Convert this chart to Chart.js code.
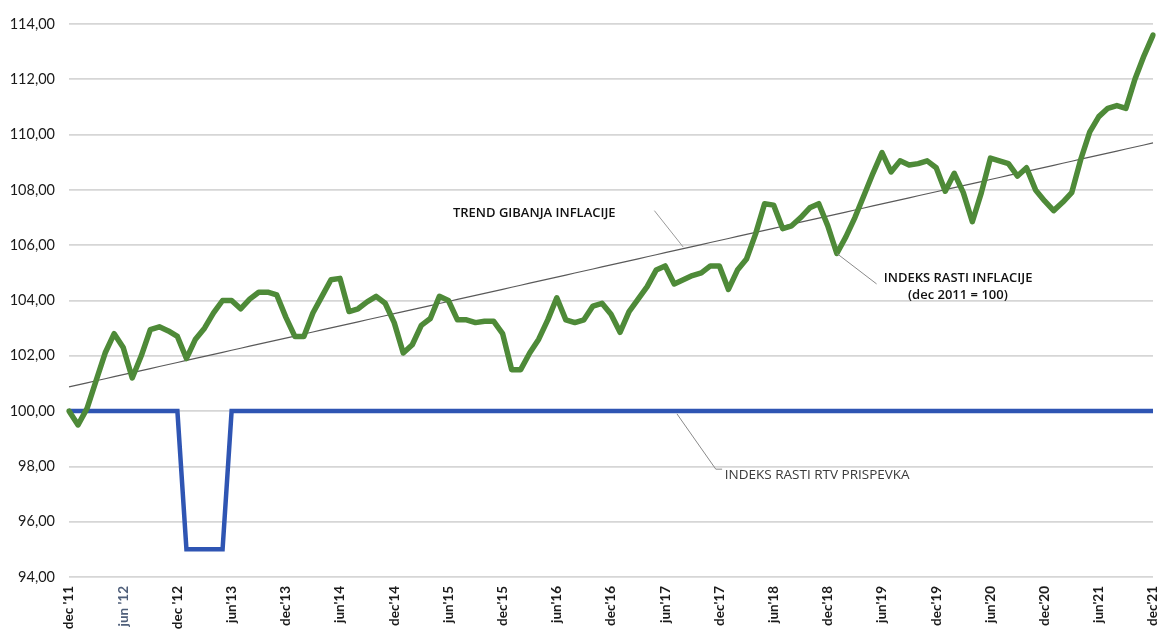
<!DOCTYPE html>
<html>
<head>
<meta charset="utf-8">
<script src="https://cdn.jsdelivr.net/npm/chart.js@4"></script>
<style>
  html, body { margin: 0; padding: 0; background: #fff; }
  #wrap { width: 1157px; height: 629px; position: relative; }
</style>
</head>
<body>
<div id="wrap"><canvas id="chart"></canvas></div>
<script>
// =============== Data ===============
// monthly, dec 2011 .. dec 2021 (121 points)
const tickLabels = ["dec '11", "jun '12", "dec '12", "jun'13", "dec'13", "jun'14", "dec'14",
  "jun'15", "dec'15", "jun'16", "dec'16", "jun'17", "dec'17", "jun'18", "dec'18",
  "jun'19", "dec'19", "jun'20", "dec'20", "jun'21", "dec'21"];

const inflacija = [
  100.0, 99.5, 100.1, 101.1, 102.1, 102.8, 102.3, 101.2, 102.0, 102.95, 103.05, 102.9,
  102.7, 101.9, 102.6, 103.0, 103.55, 104.0, 104.0, 103.7, 104.05, 104.3, 104.3, 104.2,
  103.4, 102.7, 102.7, 103.55, 104.15, 104.75, 104.8, 103.6, 103.7, 103.95, 104.15, 103.9,
  103.2, 102.1, 102.4, 103.1, 103.35, 104.15, 104.0, 103.3, 103.3, 103.2, 103.25, 103.25,
  102.8, 101.5, 101.5, 102.1, 102.6, 103.3, 104.1, 103.3, 103.2, 103.3, 103.8, 103.9,
  103.5, 102.85, 103.6, 104.05, 104.5, 105.1, 105.25, 104.6, 104.75, 104.9, 105.0, 105.25,
  105.25, 104.4, 105.1, 105.5, 106.4, 107.5, 107.45, 106.6, 106.7, 107.0, 107.35, 107.5,
  106.7, 105.7, 106.3, 107.0, 107.8, 108.6, 109.35, 108.65, 109.05, 108.9, 108.95, 109.05,
  108.8, 107.95, 108.6, 107.9, 106.85, 107.9, 109.15, 109.05, 108.95, 108.5, 108.8, 108.0,
  107.6, 107.25, 107.55, 107.9, 109.1, 110.1, 110.65, 110.95, 111.05, 110.95, 112.0, 112.85,
  113.6
];

// RTV prispevek: 100, cut to 95 from jan'13 to may'13
const rtvPrispevek = inflacija.map((_, i) => (i >= 13 && i <= 17 ? 95 : 100));

// =============== Helpers ===============
function linearTrend(values) {
  const n = values.length;
  let sx = 0, sy = 0, sxy = 0, sxx = 0;
  values.forEach((v, i) => { sx += i; sy += v; sxy += i * v; sxx += i * i; });
  const b = (n * sxy - sx * sy) / (n * sxx - sx * sx);
  const a = (sy - b * sx) / n;
  return values.map((_, i) => a + b * i);
}

const categories = inflacija.map((_, i) => (i % 6 === 0 ? tickLabels[i / 6] : ''));
const trend = linearTrend(inflacija);

// ===== Annotations (text + leader lines) =====
const annotations = {
  id: 'annotations',
  afterDatasetsDraw(chart) {
    const { ctx, scales: { x, y } } = chart;
    const px = (i) => x.getPixelForValue(i);
    const py = (v) => y.getPixelForValue(v);

    ctx.save();
    ctx.lineWidth = 1;
    ctx.strokeStyle = '#9a9a9a';
    // trend leader
    ctx.beginPath();
    ctx.moveTo(px(64.8), py(107.25));
    ctx.lineTo(px(68.0), py(105.93));
    ctx.stroke();
    // inflation leader
    ctx.strokeStyle = '#8a8a8a';
    ctx.beginPath();
    ctx.moveTo(px(85), py(105.7));
    ctx.lineTo(px(89.4), py(104.6));
    ctx.stroke();
    // rtv leader
    ctx.beginPath();
    ctx.moveTo(px(67.3), py(99.9));
    ctx.lineTo(px(71.6), py(97.9));
    ctx.lineTo(px(72.3), py(97.9));
    ctx.stroke();

    ctx.textBaseline = 'middle';
    ctx.fillStyle = '#111';
    ctx.font = '600 13px "Open Sans", sans-serif';
    ctx.textAlign = 'left';
    ctx.fillText('TREND GIBANJA INFLACIJE', px(42.5), py(107.15));
    ctx.fillText('INDEKS RASTI INFLACIJE', px(90.2), py(104.8));
    ctx.textAlign = 'center';
    ctx.fillText('(dec 2011 = 100)', px(98.4), py(104.18));

    ctx.textAlign = 'left';
    ctx.fillStyle = '#3a3a3a';
    ctx.font = '400 13.5px "Open Sans", sans-serif';
    ctx.fillText('INDEKS RASTI RTV PRISPEVKA', px(72.6), py(97.7));
    ctx.restore();
  }
};

// =============== Chart ===============
function drawChart() {
  const ctx = document.getElementById('chart').getContext('2d');
  new Chart(ctx, {
    type: 'line',
    data: {
      labels: categories,
      datasets: [
        {
          label: 'TREND GIBANJA INFLACIJE',
          data: trend,
          borderColor: '#5a5a5a',
          borderWidth: 1.2,
          pointRadius: 0,
          tension: 0,
          order: 3,
        },
        {
          label: 'INDEKS RASTI RTV PRISPEVKA',
          data: rtvPrispevek,
          borderColor: '#2f55b3',
          borderWidth: 4.5,
          pointRadius: 0,
          tension: 0,
          order: 2,
        },
        {
          label: 'INDEKS RASTI INFLACIJE',
          data: inflacija,
          borderColor: '#4e8a38',
          borderWidth: 5.5,
          pointRadius: 0,
          tension: 0,
          borderJoinStyle: 'round',
          borderCapStyle: 'round',
          order: 1,
        },
      ],
    },
    options: {
      responsive: true,
      maintainAspectRatio: false,
      animation: false,
      layout: { padding: { top: 24, left: 9, right: 4, bottom: 0 } },
      plugins: {
        legend: { display: false },
        tooltip: { enabled: false },
      },
      scales: {
        x: {
          grid: { display: false, drawTicks: false },
          border: { display: false },
          ticks: {
            autoSkip: false,
            maxRotation: 90,
            minRotation: 90,
            padding: 9,
            font: { family: 'Lato, sans-serif', size: 13.5, weight: 'bold' },
            color: (c) => (c.index === 6 ? '#4f5f7a' : '#1a1a1a'),
          },
          afterFit: (s) => { s.height = 52; s.paddingLeft = 0; s.paddingRight = 0; },
        },
        y: {
          min: 94,
          max: 114,
          grid: { color: '#d6d6d6', lineWidth: 1.8, drawTicks: false },
          border: { display: false },
          ticks: {
            stepSize: 2,
            padding: 14,
            font: { family: 'Lato, sans-serif', size: 14.5 },
            color: '#1a1a1a',
            callback: (v) => v.toFixed(2).replace('.', ','),
          },
          afterFit: (s) => { s.width = 60; },
        },
      },
    },
    plugins: [annotations],
  });
}

document.addEventListener('DOMContentLoaded', drawChart);
</script>
</body>
</html>
